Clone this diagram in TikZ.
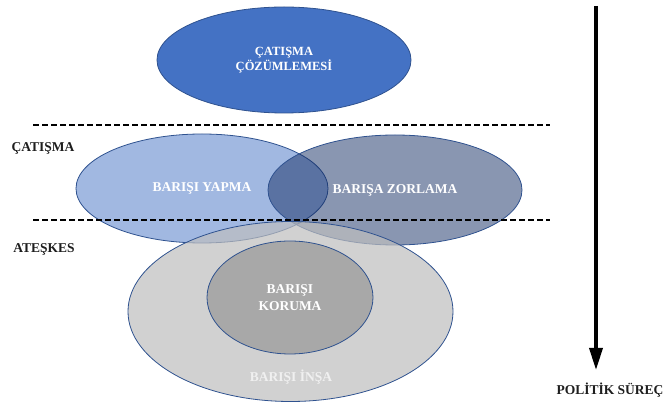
\documentclass[tikz,border=0pt]{standalone}
\usepackage{fontspec}
\setmainfont{Liberation Serif}
\usetikzlibrary{shapes.geometric,arrows.meta}

\definecolor{topblue}{RGB}{68,114,196}
\definecolor{rimblue}{RGB}{47,82,143}
\definecolor{slateblue}{RGB}{20,45,100}
\definecolor{buildgray}{RGB}{190,190,190}
\definecolor{keepgray}{RGB}{168,168,168}
\definecolor{sidetext}{RGB}{30,30,30}

\begin{document}
\begin{tikzpicture}[x=1pt, y=-1pt,
        zone/.style={ellipse, draw=rimblue, line width=0.8pt, inner sep=0pt, text=white, text opacity=1, align=center, font=\bfseries\fontsize{13.5}{16.5}\selectfont},
        phase/.style={text=sidetext, font=\bfseries\fontsize{13.5}{16}\selectfont},
        cut/.style={line width=2pt, dash pattern=on 6pt off 3pt}]
        \useasboundingbox (0,0) rectangle (665,403);

        \node[zone, fill=topblue, minimum width=254pt, minimum height=106pt, font=\bfseries\fontsize{12.5}{15}\selectfont] (analysis) at (284,60) {ÇATIŞMA\\ÇÖZÜMLEMESİ};

        \node[zone, fill=topblue, fill opacity=0.5, minimum width=252pt, minimum height=109pt] (making) at (202,188.5) {BARIŞI YAPMA};
        \node[zone, fill=slateblue, fill opacity=0.5, minimum width=254pt, minimum height=110pt] (enforcing) at (395,190) {BARIŞA ZORLAMA};

        \node[zone, fill=buildgray, fill opacity=0.7, minimum width=325pt, minimum height=180pt] (building) at (290.5,311.5) {};
        \node[zone, fill=keepgray, minimum width=166pt, minimum height=113pt] (keeping) at (290,297.5) {BARIŞI\\KORUMA};
        \node[zone, draw=none, text=white!94!black] (buildlbl) at (291,377) {BARIŞI İNŞA};

        % phase borders
        \coordinate (conflictL) at (33,125.5);
        \coordinate (conflictR) at (550,125.5);
        \coordinate (truceL) at (33,220.5);
        \coordinate (truceR) at (550,220.5);
        \draw[cut] (conflictL) -- (conflictR);
        \draw[cut] (truceL) -- (truceR);

        \node[phase] (conflict) at (43,148) {ÇATIŞMA};
        \node[phase] (truce) at (44,249) {ATEŞKES};

        % political process
        \coordinate (flowtop) at (596,6);
        \coordinate (flowend) at (596,370);
        \draw[line width=3.5pt, -{Triangle[width=13pt,length=22pt]}] (flowtop) -- (flowend);
        \node[phase] (flowlbl) at (610,390) {POLİTİK SÜREÇ};

\end{tikzpicture}
\end{document}
